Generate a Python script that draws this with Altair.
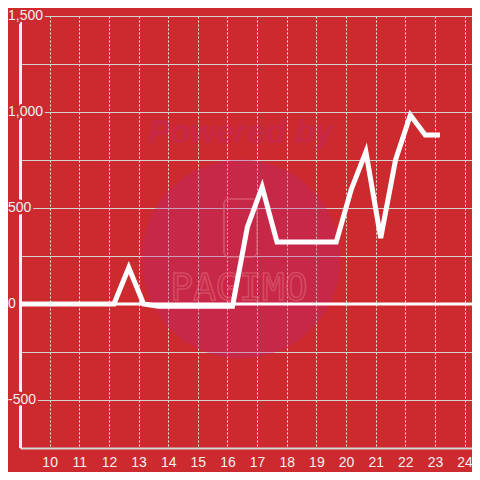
import altair as alt
import pandas as pd

# ---- data ----
hours = [8.67, 9.17, 9.67, 10.17, 10.67, 11.17, 11.67, 12.17, 12.67, 13.17,
         13.67, 14.17, 14.67, 15.17, 15.67, 16.17, 16.67, 17.17, 17.67, 18.17,
         18.67, 19.17, 19.67, 20.17, 20.67, 21.17, 21.67, 22.17, 22.67, 23.17]
values = [0, 0, 0, 0, 0, 0, 0, 0, 190, 0,
          -12, -12, -12, -12, -12, -12, 400, 610, 323, 323,
          323, 323, 323, 594, 793, 344, 750, 984, 880, 880]
x_ticks = list(range(10, 25))
y_grid = [-750, -500, -250, 0, 250, 500, 750, 1000, 1250, 1500]
y_labels = [-500, 0, 500, 1000, 1500]

BG = "#CC2A2E"
W, H = 452, 432
FONT = "Liberation Sans"

df = pd.DataFrame({"hour": hours, "value": values})
lab = pd.DataFrame({"v": y_labels, "t": [f"{v:,}" for v in y_labels]})
one = pd.DataFrame({"a": [0]})

xs = alt.Scale(domain=[9, 24.25], nice=False, zero=False)
ys = alt.Scale(domain=[-750, 1500], nice=False, zero=False)

xaxis = alt.Axis(values=x_ticks, grid=True, gridDash=[2, 2], gridColor="#EEEEEE",
                 gridWidth=1, domainColor="#D6D6D6", domainWidth=2, ticks=False,
                 labelPadding=7, labelColor="#F0F0F0", labelFontSize=14, labelFont=FONT,
                 labelFlush=False, title=None)
yaxis = alt.Axis(values=y_grid, grid=True, gridColor="#D2D2D2", gridWidth=1,
                 labels=False, ticks=False, domain=False, title=None)

# watermark
circle = alt.Chart(one).mark_circle(size=39600, color="#BF2385", opacity=0.3).encode(
    x=alt.value(221), y=alt.value(243))
powered = alt.Chart(one).mark_text(text="Powered by", font=FONT, fontSize=33, fontStyle="italic",
                                   fontWeight="bold", color="#BF2385", opacity=0.28,
                                   align="center", baseline="middle").encode(
    x=alt.value(221), y=alt.value(117))
icon = alt.Chart(one).mark_rect(cornerRadius=5, fillOpacity=0, stroke="#E06A78",
                                strokeOpacity=0.55, strokeWidth=2).encode(
    x=alt.value(204), x2=alt.value(237), y=alt.value(183), y2=alt.value(241))
brand = alt.Chart(one).mark_text(text="PAGIMO", font="DejaVu Sans Mono", fontSize=38,
                                 fillOpacity=0, stroke="#E06A78", strokeOpacity=0.55,
                                 strokeWidth=1.5, align="center", baseline="middle").encode(
    x=alt.value(219), y=alt.value(273))

grid_layer = alt.Chart(df).mark_line(opacity=0).encode(
    x=alt.X("hour:Q", scale=xs, axis=xaxis),
    y=alt.Y("value:Q", scale=ys, axis=yaxis))

yline = alt.Chart(one).mark_rule(color="#F2F2F2", strokeWidth=3).encode(x=alt.value(0.5))
zero = alt.Chart(one).mark_rule(color="white", strokeWidth=3).encode(
    y=alt.Y(datum=0, scale=ys, axis=yaxis))

halo = alt.Chart(lab).mark_text(align="left", baseline="middle", font=FONT, fontSize=14,
                                fill=BG, stroke=BG, strokeWidth=5, strokeJoin="round").encode(
    x=alt.value(-12), y=alt.Y("v:Q", scale=ys, axis=yaxis), text="t:N")
labels = alt.Chart(lab).mark_text(align="left", baseline="middle", font=FONT, fontSize=14,
                                  color="#F0F0F0").encode(
    x=alt.value(-12), y=alt.Y("v:Q", scale=ys, axis=yaxis), text="t:N")

line = alt.Chart(df).mark_line(color="white", strokeWidth=5, strokeJoin="miter", clip=True).encode(
    x=alt.X("hour:Q", scale=xs, axis=xaxis),
    y=alt.Y("value:Q", scale=ys, axis=yaxis))

chart = alt.layer(grid_layer, circle, powered, icon, brand, zero, yline, halo, labels, line).properties(
    width=W, height=H,
    background=BG,
    padding={"left": 12, "top": 8, "right": 0, "bottom": 24},
    autosize=alt.AutoSizeParams(type="none"),
).configure_view(stroke=None)

chart.save("out.html", embed_options={"renderer": "svg", "actions": False})
